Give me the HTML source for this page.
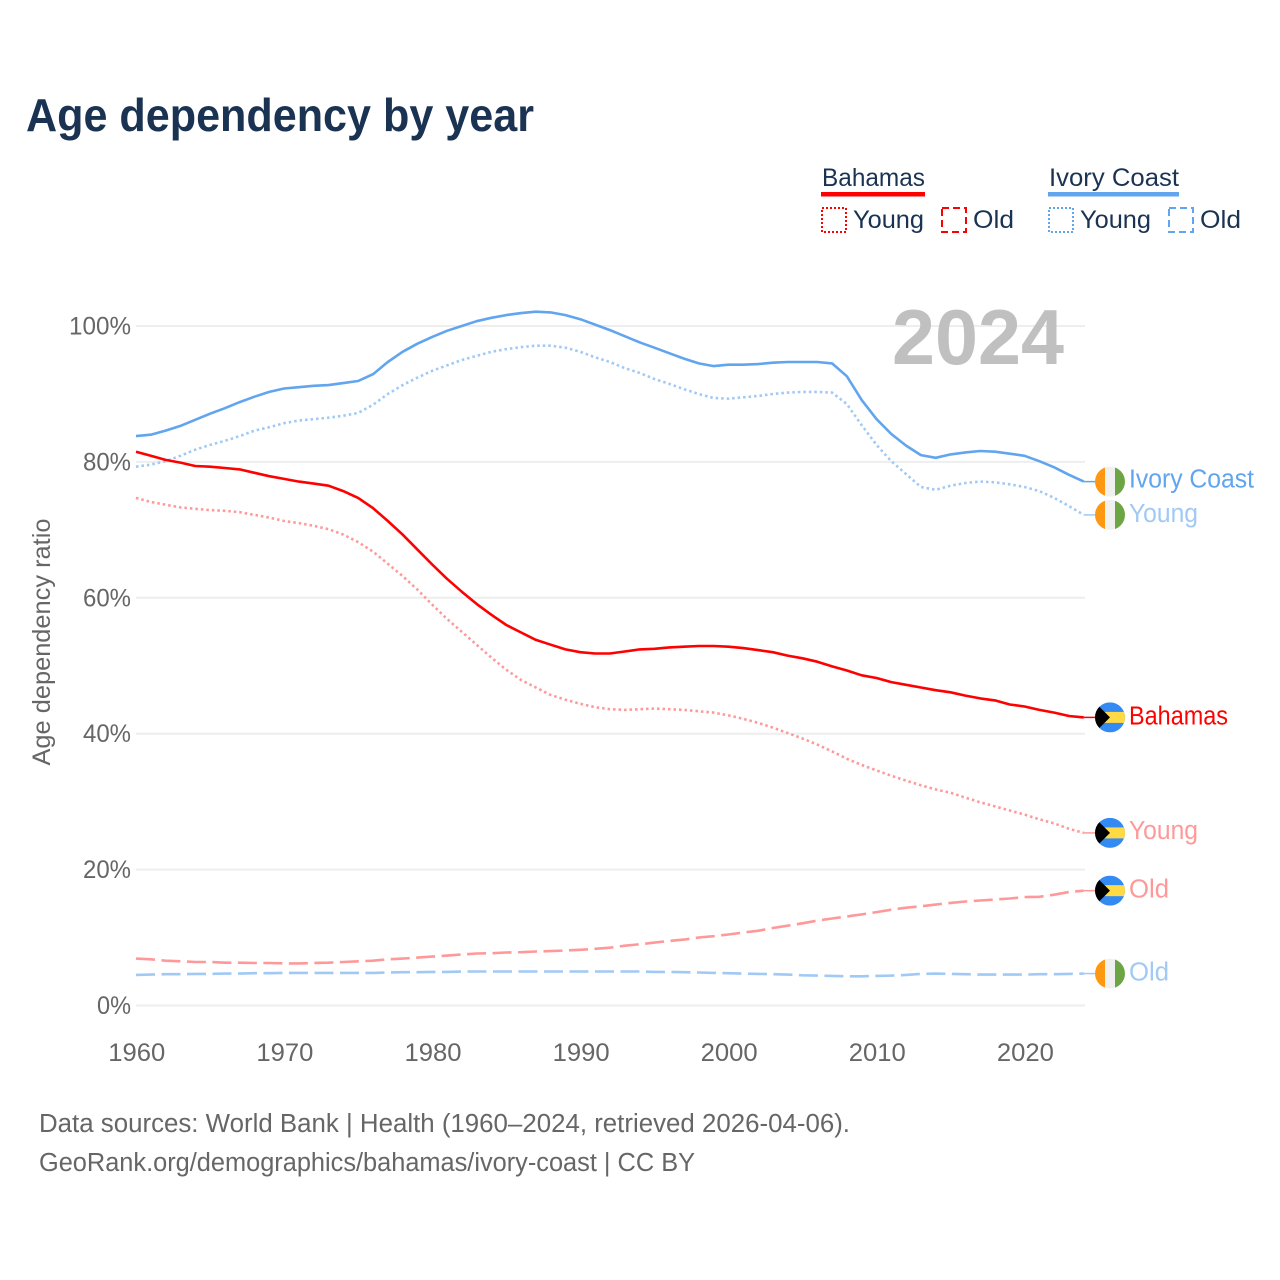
<!DOCTYPE html>
<html>
<head>
<meta charset="utf-8">
<title>Age dependency by year</title>
<style>
html,body{margin:0;padding:0;background:#fff;}
svg{display:block;}
text{font-family:"Liberation Sans",sans-serif;}
</style>
</head>
<body>
<svg id="chart" width="1280" height="1280" viewBox="0 0 1280 1280" xmlns="http://www.w3.org/2000/svg">
  <defs>
    <clipPath id="flag-clip"><circle cx="0" cy="0" r="15"/></clipPath>
  </defs>
  <text x="26" y="131" font-size="46" font-weight="bold" fill="#1a3353" textLength="508" lengthAdjust="spacingAndGlyphs">Age dependency by year</text>

  <g>
    <text x="822" y="186" font-size="25" fill="#1a3353" textLength="103" lengthAdjust="spacingAndGlyphs">Bahamas</text>
    <rect x="821" y="192" width="104" height="4.5" fill="#ff0000"/>
    <rect x="822" y="208" width="24" height="24" fill="none" stroke="#ff0000" stroke-width="2" stroke-dasharray="2 2"/>
    <text x="853" y="228" font-size="25" fill="#1a3353" textLength="71" lengthAdjust="spacingAndGlyphs">Young</text>
    <rect x="942" y="208" width="24" height="24" fill="none" stroke="#ff0000" stroke-width="2" stroke-dasharray="7 4"/>
    <text x="973" y="228" font-size="25" fill="#1a3353" textLength="41" lengthAdjust="spacingAndGlyphs">Old</text>

    <text x="1049" y="186" font-size="25" fill="#1a3353" textLength="130" lengthAdjust="spacingAndGlyphs">Ivory Coast</text>
    <rect x="1048" y="192" width="131" height="4.5" fill="#61a5ee"/>
    <rect x="1049" y="208" width="24" height="24" fill="none" stroke="#61a5ee" stroke-width="2" stroke-dasharray="2 2"/>
    <text x="1080" y="228" font-size="25" fill="#1a3353" textLength="71" lengthAdjust="spacingAndGlyphs">Young</text>
    <rect x="1169" y="208" width="24" height="24" fill="none" stroke="#61a5ee" stroke-width="2" stroke-dasharray="7 4"/>
    <text x="1200" y="228" font-size="25" fill="#1a3353" textLength="41" lengthAdjust="spacingAndGlyphs">Old</text>
  </g>

  <g id="grid"></g>
  <g id="y-ticks"></g>
  <g id="x-ticks"></g>
  <text transform="translate(50,642) rotate(-90)" text-anchor="middle" font-size="25" fill="#666666" textLength="247" lengthAdjust="spacingAndGlyphs">Age dependency ratio</text>
  <text x="892" y="364" font-size="78" font-weight="bold" fill="#c0c0c0" textLength="172" lengthAdjust="spacingAndGlyphs">2024</text>
  <g id="series"></g>
  <g id="end-labels"></g>

  <text x="39" y="1132" font-size="25.5" fill="#666666" textLength="811" lengthAdjust="spacingAndGlyphs">Data sources: World Bank | Health (1960–2024, retrieved 2026-04-06).</text>
  <text x="39" y="1171" font-size="25.5" fill="#666666" textLength="656" lengthAdjust="spacingAndGlyphs">GeoRank.org/demographics/bahamas/ivory-coast | CC BY</text>
</svg>
<script>
const startYear = 1960;
const yTicks = [0, 20, 40, 60, 80, 100];
const xTicks = [1960, 1970, 1980, 1990, 2000, 2010, 2020];
const ivoryTotal = [83.8,84.0,84.6,85.3,86.2,87.1,87.9,88.8,89.6,90.3,90.8,91.0,91.2,91.3,91.6,91.9,92.9,94.7,96.2,97.4,98.4,99.3,100.0,100.7,101.2,101.6,101.9,102.1,102.0,101.6,101.0,100.2,99.4,98.5,97.6,96.8,96.0,95.2,94.5,94.1,94.3,94.3,94.4,94.6,94.7,94.7,94.7,94.5,92.6,89.1,86.3,84.1,82.4,81.0,80.6,81.1,81.4,81.6,81.5,81.2,80.9,80.1,79.2,78.1,77.1];
const ivoryYoung = [79.3,79.6,80.1,80.9,81.8,82.5,83.1,83.8,84.6,85.1,85.7,86.1,86.3,86.5,86.8,87.2,88.4,90.0,91.3,92.4,93.4,94.2,95.0,95.6,96.2,96.6,96.9,97.1,97.1,96.8,96.2,95.4,94.7,93.8,93.1,92.2,91.5,90.7,90.0,89.4,89.3,89.5,89.7,90.0,90.2,90.3,90.3,90.2,88.5,85.4,82.5,80.1,78.2,76.3,75.9,76.5,76.9,77.1,77.0,76.7,76.3,75.7,74.7,73.5,72.2];
const ivoryOld = [4.5,4.55,4.6,4.6,4.65,4.65,4.7,4.7,4.75,4.75,4.8,4.8,4.8,4.8,4.8,4.8,4.8,4.85,4.9,4.9,4.95,4.95,5.0,5.0,5.0,5.0,5.0,5.0,5.0,5.0,5.0,5.0,5.0,5.0,5.0,4.95,4.95,4.9,4.85,4.8,4.75,4.7,4.65,4.6,4.55,4.45,4.4,4.35,4.3,4.3,4.35,4.4,4.5,4.65,4.7,4.65,4.6,4.55,4.55,4.55,4.55,4.6,4.6,4.65,4.7];
const bahamasTotal = [81.5,80.9,80.3,79.9,79.4,79.3,79.1,78.9,78.4,77.9,77.5,77.1,76.8,76.5,75.7,74.7,73.2,71.3,69.3,67.1,64.9,62.8,60.9,59.1,57.5,56.0,54.9,53.8,53.1,52.4,52.0,51.8,51.8,52.1,52.4,52.5,52.7,52.8,52.9,52.9,52.8,52.6,52.3,52.0,51.5,51.1,50.6,49.9,49.3,48.6,48.2,47.6,47.2,46.8,46.4,46.1,45.6,45.2,44.9,44.3,44.0,43.5,43.1,42.6,42.4];
const bahamasYoung = [74.7,74.1,73.7,73.3,73.1,72.9,72.8,72.6,72.2,71.8,71.3,71.0,70.6,70.1,69.3,68.2,66.8,65.0,63.2,61.2,59.0,56.9,55.0,53.1,51.2,49.4,47.9,46.8,45.7,45.0,44.4,43.9,43.6,43.5,43.6,43.7,43.6,43.5,43.3,43.1,42.7,42.2,41.6,40.9,40.1,39.3,38.4,37.4,36.3,35.4,34.6,33.8,33.1,32.4,31.8,31.3,30.6,29.9,29.3,28.7,28.1,27.4,26.8,26.0,25.4];
const bahamasOld = [6.9,6.8,6.6,6.5,6.4,6.4,6.3,6.3,6.25,6.25,6.2,6.2,6.25,6.3,6.4,6.5,6.6,6.8,6.9,7.05,7.2,7.35,7.5,7.65,7.7,7.8,7.85,7.95,8.0,8.1,8.2,8.35,8.5,8.8,9.0,9.25,9.5,9.7,10.0,10.2,10.45,10.75,11.0,11.4,11.75,12.1,12.5,12.8,13.1,13.4,13.75,14.1,14.4,14.6,14.85,15.1,15.3,15.45,15.6,15.75,15.95,16.0,16.3,16.7,16.9];

const NS = 'http://www.w3.org/2000/svg';
const xScale = function (year) { return 136 + (year - startYear) * 14.81; };
const yScale = function (value) { return 1005.5 - value * 6.795; };

function make(tag, parent, attrs) {
  const el = document.createElementNS(NS, tag);
  for (const k in attrs) el.setAttribute(k, attrs[k]);
  parent.appendChild(el);
  return el;
}

const grid = document.getElementById('grid');
const yGroup = document.getElementById('y-ticks');
yTicks.forEach(function (t) {
  const line = make('line', grid, {x1: 136, x2: 1085, y1: yScale(t), y2: yScale(t), stroke: '#eeeeee', 'stroke-width': 2});
  
  
  const label = make('text', yGroup, {x: 131, y: yScale(t) + 8.5, 'text-anchor': 'end', 'font-size': 25, fill: '#666666'});
  label.textContent = t + '%';
  label.setAttribute('textLength', String(t).length * 14 + 20);
  label.setAttribute('lengthAdjust', 'spacingAndGlyphs');
  
  
});

const xGroup = document.getElementById('x-ticks');
xTicks.forEach(function (t) {
  const label = make('text', xGroup, {x: xScale(t) + 0.8, y: 1061, 'text-anchor': 'middle', 'font-size': 25, fill: '#666666'});
  label.textContent = t;
  label.setAttribute('textLength', 57);
  label.setAttribute('lengthAdjust', 'spacingAndGlyphs');
  
  
});

const seriesGroup = document.getElementById('series');
const labelGroup = document.getElementById('end-labels');

function drawFlag(kind, cy, name) {
  const g = make('g', labelGroup, {transform: 'translate(1110,' + cy + ')', 'clip-path': 'url(#flag-clip)'});
  
  
  if (kind === 'ivory') {
    make('rect', g, {x: -15, y: -15, width: 10, height: 30, fill: '#ff9811'});
    make('rect', g, {x: -5, y: -15, width: 10, height: 30, fill: '#f0f0f0'});
    make('rect', g, {x: 5, y: -15, width: 10, height: 30, fill: '#6da544'});
  } else {
    make('rect', g, {x: -15, y: -15, width: 30, height: 30, fill: '#338af3'});
    make('rect', g, {x: -15, y: -5.5, width: 30, height: 11, fill: '#ffda44'});
    make('polygon', g, {points: '-15,-15 0,0 -15,15', fill: '#000000'});
  }
}

function drawSeries(values, opts) {
  const points = values.map(function (v, i) { return xScale(startYear + i).toFixed(1) + ',' + yScale(v).toFixed(1); });
  const lastY = yScale(values[values.length - 1]);
  const lastX = xScale(startYear + values.length - 1);
  const path = make('path', seriesGroup, {
    d: 'M' + points.join('L'),
    fill: 'none',
    stroke: opts.color,
    'stroke-width': 2.6,
    'stroke-linejoin': 'round'
  });
  if (opts.dash) path.setAttribute('stroke-dasharray', opts.dash);
  
  
  const conn = make('line', seriesGroup, {x1: lastX, x2: 1096, y1: lastY, y2: lastY, stroke: opts.color, 'stroke-width': 1.5});
  
  
  drawFlag(opts.flag, lastY, opts.name + '-flag');
  const label = make('text', labelGroup, {x: 1129, y: lastY + 7 + opts.dy, 'font-size': 25.5, fill: opts.color});
  label.textContent = opts.label;
  label.setAttribute('textLength', opts.width);
  label.setAttribute('lengthAdjust', 'spacingAndGlyphs');
  
  
}

drawSeries(bahamasOld, {color: '#ff9999', dash: '19 6.5', name: 'bahamas-old', label: 'Old', width: 40, flag: 'bahamas', dy: 0});
drawSeries(ivoryOld, {color: '#a0c9f5', dash: '19 6.5', name: 'ivory-coast-old', label: 'Old', width: 40, flag: 'ivory', dy: 0});
drawSeries(bahamasYoung, {color: '#ff9999', dash: '2.5 3', name: 'bahamas-young', label: 'Young', width: 69, flag: 'bahamas', dy: -1});
drawSeries(ivoryYoung, {color: '#a0c9f5', dash: '2.5 3', name: 'ivory-coast-young', label: 'Young', width: 69, flag: 'ivory', dy: 0});
drawSeries(bahamasTotal, {color: '#ff0000', dash: '', name: 'bahamas-total', label: 'Bahamas', width: 99, flag: 'bahamas', dy: 0});
drawSeries(ivoryTotal, {color: '#61a5ee', dash: '', name: 'ivory-coast-total', label: 'Ivory Coast', width: 125, flag: 'ivory', dy: -1});
</script>
</body>
</html>
